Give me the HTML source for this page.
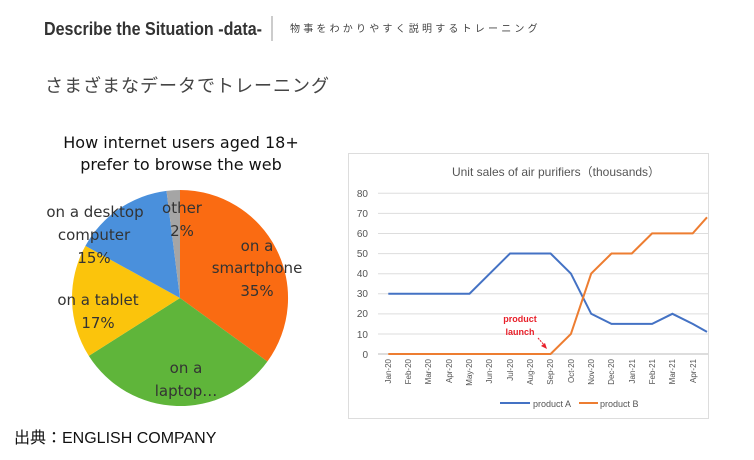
<!DOCTYPE html><html><head><meta charset="utf-8"><style>
body{margin:0;width:754px;height:460px;background:#fff;overflow:hidden;font-family:"Liberation Sans","Noto Sans CJK JP",sans-serif}
</style></head><body>
<svg width="754" height="460" xmlns="http://www.w3.org/2000/svg" style="position:absolute;left:0;top:0">
<text x="44" y="35" font-size="18" font-weight="bold" fill="#333" font-family="Liberation Sans Narrow,Liberation Sans,sans-serif" textLength="218" lengthAdjust="spacingAndGlyphs">Describe the Situation -data-</text>
<line x1="272" y1="16" x2="272" y2="41" stroke="#999" stroke-width="1"/>
<text x="290" y="32" font-size="10" fill="#444" letter-spacing="3.2" font-family="Noto Sans CJK JP,sans-serif">物事をわかりやすく説明するトレーニング</text>
<text x="45" y="92" font-size="18" fill="#444" font-family="Noto Sans CJK JP,sans-serif" letter-spacing="1">さまざまなデータでトレーニング</text>
<text x="181" y="148" font-size="16" fill="#111" text-anchor="middle" font-family="DejaVu Sans,sans-serif">How internet users aged 18+</text>
<text x="181" y="170" font-size="16" fill="#111" text-anchor="middle" font-family="DejaVu Sans,sans-serif">prefer to browse the web</text>
<path d="M180,298 L180,190 A108,108 0 0 1 267.4,361.5Z" fill="#fa6b12"/>
<path d="M180,298 L267.4,361.5 A108,108 0 0 1 88.8,355.9Z" fill="#5fb53a"/>
<path d="M180,298 L88.8,355.9 A108,108 0 0 1 85.4,245.9Z" fill="#fbc40c"/>
<path d="M180,298 L85.4,245.9 A108,108 0 0 1 166.5,190.9Z" fill="#4a90dc"/>
<path d="M180,298 L166.5,190.9 A108,108 0 0 1 180,190Z" fill="#a5a5a5"/>
<g font-size="15" fill="#333" text-anchor="middle" font-family="DejaVu Sans,sans-serif">
<text x="95" y="217">on a desktop</text><text x="94" y="240">computer</text><text x="94" y="263">15%</text>
<text x="182" y="213">other</text><text x="182" y="236">2%</text>
<text x="257" y="251">on a</text><text x="257" y="273">smartphone</text><text x="257" y="296">35%</text>
<text x="98" y="305">on a tablet</text><text x="98" y="328">17%</text>
<text x="186" y="373">on a</text><text x="186" y="396">laptop…</text>
</g>
<rect x="348.5" y="153.5" width="360" height="265" fill="none" stroke="#ddd"/>
<text x="556" y="176" font-size="12" fill="#555" text-anchor="middle">Unit sales of air purifiers（thousands）</text>
<g stroke="#ddd" stroke-width="1">
<line x1="378" y1="193.3" x2="708" y2="193.3"/><line x1="378" y1="213.4" x2="708" y2="213.4"/><line x1="378" y1="233.5" x2="708" y2="233.5"/><line x1="378" y1="253.6" x2="708" y2="253.6"/><line x1="378" y1="273.7" x2="708" y2="273.7"/><line x1="378" y1="293.8" x2="708" y2="293.8"/><line x1="378" y1="313.9" x2="708" y2="313.9"/><line x1="378" y1="334" x2="708" y2="334"/>
</g>
<line x1="378" y1="354" x2="708" y2="354" stroke="#bbb"/>
<g font-size="10" fill="#555" text-anchor="end">
<text x="368" y="197">80</text><text x="368" y="217">70</text><text x="368" y="237">60</text><text x="368" y="257">50</text><text x="368" y="277">40</text><text x="368" y="297">30</text><text x="368" y="317">20</text><text x="368" y="338">10</text><text x="368" y="358">0</text>
</g>
<g font-size="8" fill="#555" text-anchor="end">
<text transform="translate(391,359) rotate(-90)">Jan-20</text>
<text transform="translate(411,359) rotate(-90)">Feb-20</text>
<text transform="translate(431,359) rotate(-90)">Mar-20</text>
<text transform="translate(452,359) rotate(-90)">Apr-20</text>
<text transform="translate(472,359) rotate(-90)">May-20</text>
<text transform="translate(492,359) rotate(-90)">Jun-20</text>
<text transform="translate(513,359) rotate(-90)">Jul-20</text>
<text transform="translate(533,359) rotate(-90)">Aug-20</text>
<text transform="translate(553,359) rotate(-90)">Sep-20</text>
<text transform="translate(574,359) rotate(-90)">Oct-20</text>
<text transform="translate(594,359) rotate(-90)">Nov-20</text>
<text transform="translate(614,359) rotate(-90)">Dec-20</text>
<text transform="translate(635,359) rotate(-90)">Jan-21</text>
<text transform="translate(655,359) rotate(-90)">Feb-21</text>
<text transform="translate(675,359) rotate(-90)">Mar-21</text>
<text transform="translate(696,359) rotate(-90)">Apr-21</text>
</g>
<polyline fill="none" stroke="#4472c4" stroke-width="2" points="388.3,293.7 408.6,293.7 428.9,293.7 449.2,293.7 469.5,293.7 489.8,273.6 510.0,253.5 530.3,253.5 550.6,253.5 570.9,273.6 591.2,313.8 611.5,323.9 631.8,323.9 652.1,323.9 672.4,313.8 692.7,323.9 707,331.9"/>
<polyline fill="none" stroke="#ed7d31" stroke-width="2" points="388.3,354 550.6,354 570.9,333.9 591.2,273.6 611.5,253.5 631.8,253.5 652.1,233.4 672.4,233.4 692.7,233.4 707,217.3"/>
<text x="520" y="322" font-size="9" fill="#e8202a" text-anchor="middle" font-weight="bold">product</text>
<text x="520" y="335" font-size="9" fill="#e8202a" text-anchor="middle" font-weight="bold">launch</text>
<line x1="538" y1="338" x2="545" y2="346" stroke="#e8202a" stroke-width="1" stroke-dasharray="2,1"/>
<path d="M547,349 L541,346 L545,343Z" fill="#e8202a"/>
<line x1="500" y1="403" x2="530" y2="403" stroke="#4472c4" stroke-width="2"/>
<text x="533" y="407" font-size="9" fill="#555">product A</text>
<line x1="579" y1="403" x2="598" y2="403" stroke="#ed7d31" stroke-width="2"/>
<text x="600" y="407" font-size="9" fill="#555">product B</text>
<text x="14" y="443" font-size="16" fill="#111" font-family="Liberation Sans,Noto Sans CJK JP,sans-serif">出典：ENGLISH COMPANY</text>
</svg>
</body></html>
